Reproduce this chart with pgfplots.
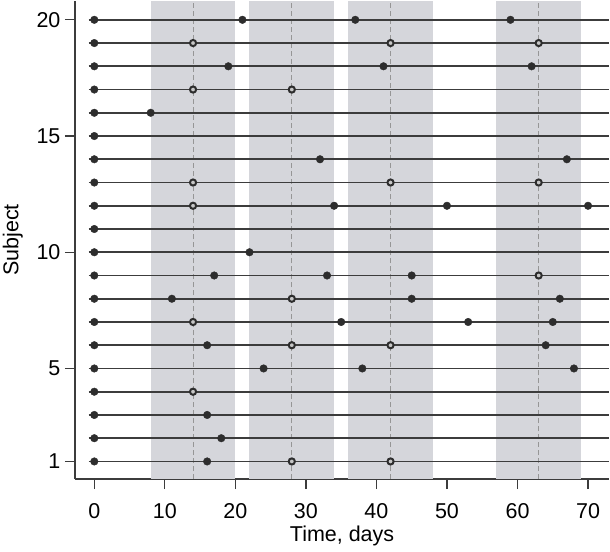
\documentclass[border=0pt]{standalone}
\usepackage{pgfplots}
\pgfplotsset{compat=1.18}
\usepackage{fontspec}
\setmainfont{Liberation Sans}

\definecolor{bandgray}{RGB}{213,214,219}
\definecolor{dashgray}{RGB}{150,150,150}
\definecolor{linedark}{RGB}{60,60,60}
\definecolor{dotdark}{RGB}{45,45,45}

\begin{document}
\begin{tikzpicture}
\begin{axis}[
    scale only axis,
    width=535bp, height=479bp,
    xmin=-2.75, xmax=73, ymin=0.24, ymax=20.82,
    axis x line*=bottom, axis y line*=left,
    axis line style={linedark, line width=1.5bp},
    xtick={0,10,...,70}, ytick={1,5,10,15,20},
    tick align=outside, major tick length=10bp,
    tick style={linedark, line width=1.3bp},
    font=\fontsize{21.5bp}{25bp}\selectfont,
    /pgf/number format/assume math mode=true,
    xticklabel style={yshift=-11bp},
    yticklabel style={xshift=-1bp},
    xlabel={Time, days}, ylabel={Subject},
    xlabel style={at={([yshift=-62bp]axis description cs:0.5,0)}, anchor=base, inner sep=0pt},
    ylabel style={at={([xshift=-52bp]axis description cs:0,0.5)}, anchor=south, inner sep=0pt},
    clip=false,
]
% treatment periods
\addplot[draw=none, fill=bandgray] coordinates {(8,0.24) (8,20.82) (20,20.82) (20,0.24)} -- cycle;
\addplot[draw=none, fill=bandgray] coordinates {(22,0.24) (22,20.82) (34,20.82) (34,0.24)} -- cycle;
\addplot[draw=none, fill=bandgray] coordinates {(36,0.24) (36,20.82) (48,20.82) (48,0.24)} -- cycle;
\addplot[draw=none, fill=bandgray] coordinates {(57,0.24) (57,20.82) (69,20.82) (69,0.24)} -- cycle;
% scheduled visits
\pgfplotsinvokeforeach{14,28,42,63}{
  \addplot[dashgray, line width=1bp, dash pattern=on 5bp off 3bp] coordinates {(#1,0.24) (#1,20.82)};
}
% subject lines
\pgfplotsinvokeforeach{1,...,20}{
  \addplot[linedark, line width=1.6bp] coordinates {(-0.8,#1) (73,#1)};
}
% observed events
\addplot[only marks, mark=*, mark size=3.8bp, mark options={fill=dotdark, draw=dotdark}] table {
x y
0 1
0 2
0 3
0 4
0 5
0 6
0 7
0 8
0 9
0 10
0 11
0 12
0 13
0 14
0 15
0 16
0 17
0 18
0 19
0 20
21 20
37 20
59 20
19 18
41 18
62 18
8 16
32 14
67 14
34 12
50 12
70 12
22 10
17 9
33 9
45 9
11 8
45 8
66 8
35 7
53 7
65 7
16 6
64 6
24 5
38 5
68 5
16 3
18 2
16 1
};
% scheduled visits attended
\addplot[only marks, mark=*, mark size=3.1bp, mark options={fill=gray!45, draw=dotdark, line width=2bp}] table {
x y
14 19
42 19
63 19
14 17
28 17
14 13
42 13
63 13
14 12
63 9
28 8
14 7
28 6
42 6
14 4
28 1
42 1
};
\end{axis}
\path (current axis.south west) ++(-75bp,-72bp) rectangle (current axis.north east);
\end{tikzpicture}
\end{document}
